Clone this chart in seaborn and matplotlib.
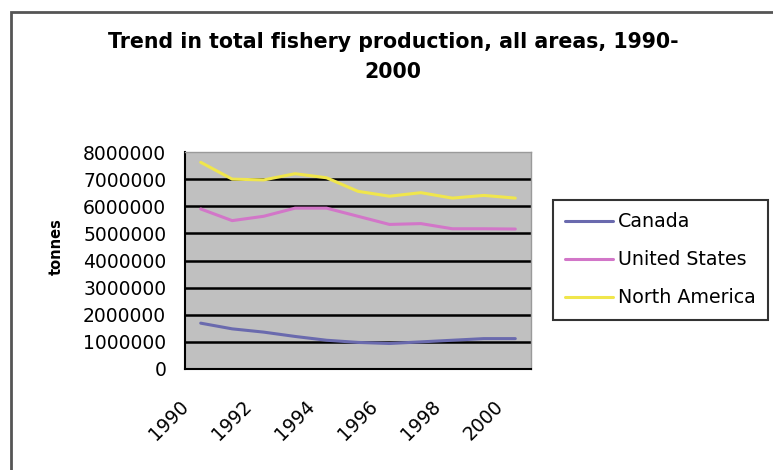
import pandas as pd
import matplotlib.pyplot as plt
import matplotlib.transforms as mtransforms
from matplotlib.patches import Rectangle
import seaborn as sns

# ---- data ----
years = [1990, 1991, 1992, 1993, 1994, 1995, 1996, 1997, 1998, 1999, 2000]
canada = [1690000, 1480000, 1360000, 1200000, 1060000, 980000, 940000, 1000000, 1060000, 1120000, 1120000]
united_states = [5900000, 5470000, 5630000, 5930000, 5930000, 5630000, 5330000, 5360000, 5170000, 5170000, 5160000]
north_america = [7620000, 7000000, 6970000, 7200000, 7050000, 6550000, 6370000, 6500000, 6300000, 6400000, 6300000]

regions = ["Canada", "United States", "North America"]
colors = ["#6a6aae", "#d276c8", "#f0e64c"]
tick_years = [1990, 1992, 1994, 1996, 1998, 2000]
y_ticks = [0, 1000000, 2000000, 3000000, 4000000, 5000000, 6000000, 7000000, 8000000]

df = pd.DataFrame({
    "year": years * 3,
    "tonnes": canada + united_states + north_america,
    "region": [r for r in regions for _ in years],
})

sns.set_style("white")
plt.rcParams["font.family"] = ["DejaVu Sans"]
plt.rcParams["text.color"] = "black"
plt.rcParams["xtick.color"] = "black"
plt.rcParams["ytick.color"] = "black"

fig = plt.figure(figsize=(7.73, 4.70), dpi=100)
ax = fig.add_axes([185 / 773, 1 - 369 / 470, 346 / 773, 217 / 470])
ax.set_facecolor("#c0c0c0")

sns.lineplot(data=df, x="year", y="tonnes", hue="region", hue_order=regions,
             palette=colors, linewidth=2.2, ax=ax, zorder=3)

# y axis
ax.set_ylim(0, 8000000)
ax.set_yticks(y_ticks)
ax.set_yticklabels([str(v) for v in y_ticks], fontsize=13.5)
ax.tick_params(axis="y", direction="inout", length=7, width=1.2, pad=10, colors="black")
for v in y_ticks[1:-1]:
    ax.axhline(v, color="black", linewidth=1.8, zorder=2)

# x axis: category boundaries get tick marks, labels on every second year
ax.set_xlim(years[0] - 0.5, years[-1] + 0.5)
ax.set_xticks([y - 0.5 for y in years] + [years[-1] + 0.5])
ax.set_xticklabels([])
ax.tick_params(axis="x", which="major", direction="out", length=6, width=1.2, colors="black")
ax.set_xticks(tick_years, minor=True)
ax.set_xticklabels([str(y) for y in tick_years], minor=True, fontsize=13.5,
                   rotation=45, rotation_mode="anchor", ha="right", va="center")
ax.tick_params(axis="x", which="minor", length=0, pad=25, colors="black")
shift = mtransforms.ScaledTranslation(-15 / 100, 0, fig.dpi_scale_trans)
for lab in ax.get_xticklabels(minor=True):
    lab.set_transform(lab.get_transform() + shift)

ax.set_xlabel("")
ax.set_ylabel("")
for side in ["top", "right"]:
    ax.spines[side].set_color("#9a9a9a")
    ax.spines[side].set_linewidth(1)
for side in ["left", "bottom"]:
    ax.spines[side].set_color("black")
    ax.spines[side].set_linewidth(1.5)

fig.text(56 / 773, 1 - 247 / 470, "tonnes", rotation=90, fontsize=10.5,
         fontweight="bold", ha="center", va="center")

fig.suptitle("Trend in total fishery production, all areas, 1990-\n2000",
             x=393 / 773, y=1 - 32 / 470, fontsize=14.8, fontweight="bold",
             va="top", ha="center", linespacing=1.65)

sns.move_legend(ax, loc="upper left", bbox_to_anchor=(553 / 773, 1 - 200 / 470),
                bbox_transform=fig.transFigure, title=None, fontsize=13.7,
                frameon=True, fancybox=False, edgecolor="black",
                borderaxespad=0, handlelength=2.5, handletextpad=0.25,
                labelspacing=1.0, borderpad=0.65)
leg = ax.get_legend()
leg.get_frame().set_linewidth(1.5)
for line in leg.get_lines():
    line.set_linewidth(2.2)

# outer chart border (cut off on the right and bottom like the source)
fig.patches.append(Rectangle((11 / 773, -0.05), 1.0, 1 - 12 / 470 + 0.05,
                             transform=fig.transFigure, fill=False,
                             edgecolor="#555555", linewidth=2))

fig.savefig("out.png", dpi=100)
